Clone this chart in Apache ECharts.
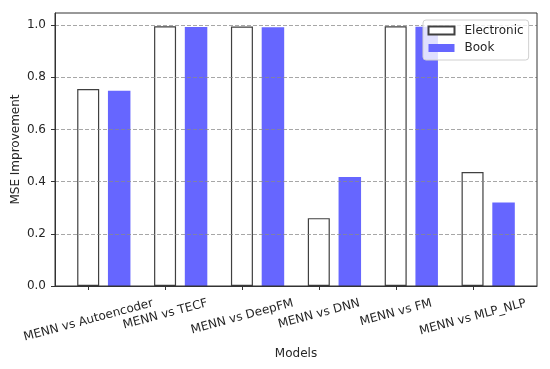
<!DOCTYPE html>
<html><head><meta charset="utf-8">
<script src="https://cdn.jsdelivr.net/npm/echarts@6/dist/echarts.min.js"></script>
<style>html,body{margin:0;padding:0;background:#fff}#c{width:550px;height:369px}</style>
</head><body><div id="c"></div>
<script>
const categories = ['MENN vs Autoencoder','MENN vs TECF','MENN vs DeepFM','MENN vs DNN','MENN vs FM','MENN vs MLP_NLP'];
const electronic = [0.755, 0.995, 0.994, 0.260, 0.995, 0.437];
const book = [0.748, 0.992, 0.991, 0.418, 0.993, 0.320];
const yTicks = [0, 0.2, 0.4, 0.6, 0.8, 1.0];
const seriesNames = ['Electronic', 'Book'];
const xTitle = 'Models';
const yTitle = 'MSE Improvement';

const FONT = '"DejaVu Sans", sans-serif';
const FS = 12;
const TXT = '#262626';
const BOOK_OFFSET = 0.4;
const ROT = 15 * Math.PI / 180;

const ctx = document.createElement('canvas').getContext('2d');
ctx.font = FS + 'px "DejaVu Sans"';
const rich = {};
categories.forEach((c, i) => {
  const L = ctx.measureText(c).width;
  rich['c' + i] = {
    fontSize: FS, fontFamily: FONT, color: TXT,
    padding: [L * Math.sin(ROT) * Math.cos(ROT), L * Math.sin(ROT) * Math.sin(ROT), 0, 0]
  };
});
const catIdx = categories.map((c, i) => i);

const chart = echarts.init(document.getElementById('c'), null, {renderer: 'canvas'});
chart.setOption({
  animation: false,
  backgroundColor: '#fff',
  textStyle: {fontFamily: FONT},
  grid: {left: 55, right: 13, top: 13, bottom: 83, z: 5, show: true, borderColor: '#333', borderWidth: 1, backgroundColor: 'transparent', outerBoundsMode: 'none', containLabel: false},
  legend: {
    orient: 'vertical', left: 423, top: 20, z: 6,
    padding: [4.5, 5, 6, 4.5],
    itemWidth: 26, itemHeight: 8, itemGap: 5.5,
    backgroundColor: 'rgba(255,255,255,0.8)', borderColor: '#d0d0d0', borderWidth: 1, borderRadius: 3,
    textStyle: {fontSize: FS, fontFamily: FONT, color: TXT, padding: [0, 0, 0, 5]},
    data: [{name: seriesNames[0], icon: 'rect'}, {name: seriesNames[1], icon: 'rect'}]
  },
  xAxis: {
    type: 'value', min: -0.435, max: 5.835, z: 5,
    name: xTitle, nameLocation: 'middle', nameGap: 62, nameMoveOverlap: false,
    nameTextStyle: {fontSize: FS, fontFamily: FONT, color: TXT},
    axisLine: {show: true, onZero: false, lineStyle: {color: '#333', width: 1}},
    axisTick: {show: true, customValues: catIdx, length: 4, lineStyle: {color: '#333'}},
    splitLine: {show: false},
    axisLabel: {
      customValues: catIdx, rotate: 15, align: 'center', verticalAlign: 'middle', margin: 17,
      fontSize: FS, fontFamily: FONT, color: TXT, rich: rich,
      formatter: v => { const i = Math.round(v); return '{c' + i + '|' + categories[i] + '}'; }
    }
  },
  yAxis: {
    type: 'value', min: 0, max: 1.046, interval: 0.2, z: 3,
    name: yTitle, nameLocation: 'middle', nameGap: 33, nameRotate: 90, nameMoveOverlap: false,
    nameTextStyle: {fontSize: FS, fontFamily: FONT, color: TXT},
    axisLine: {show: true, onZero: false, lineStyle: {color: '#333', width: 1}},
    axisTick: {show: true, customValues: yTicks, length: 4, lineStyle: {color: '#333'}},
    axisLabel: {customValues: yTicks, margin: 9, fontSize: FS, fontFamily: FONT, color: TXT, formatter: v => v.toFixed(1)},
    splitLine: {show: true, lineStyle: {color: '#8a8a8a', opacity: 0.75, type: [4, 2], width: 1}}
  },
  series: [
    {
      name: seriesNames[0], type: 'bar', barWidth: 22, barGap: '-100%',
      itemStyle: {color: '#fff', borderColor: '#404040', borderWidth: 1.2},
      data: electronic.map((v, i) => [i, v])
    },
    {
      name: seriesNames[1], type: 'bar', barWidth: 22.5, barGap: '-100%',
      itemStyle: {color: '#6666ff'},
      data: book.map((v, i) => [i + BOOK_OFFSET, v])
    }
  ]
});
</script></body></html>
